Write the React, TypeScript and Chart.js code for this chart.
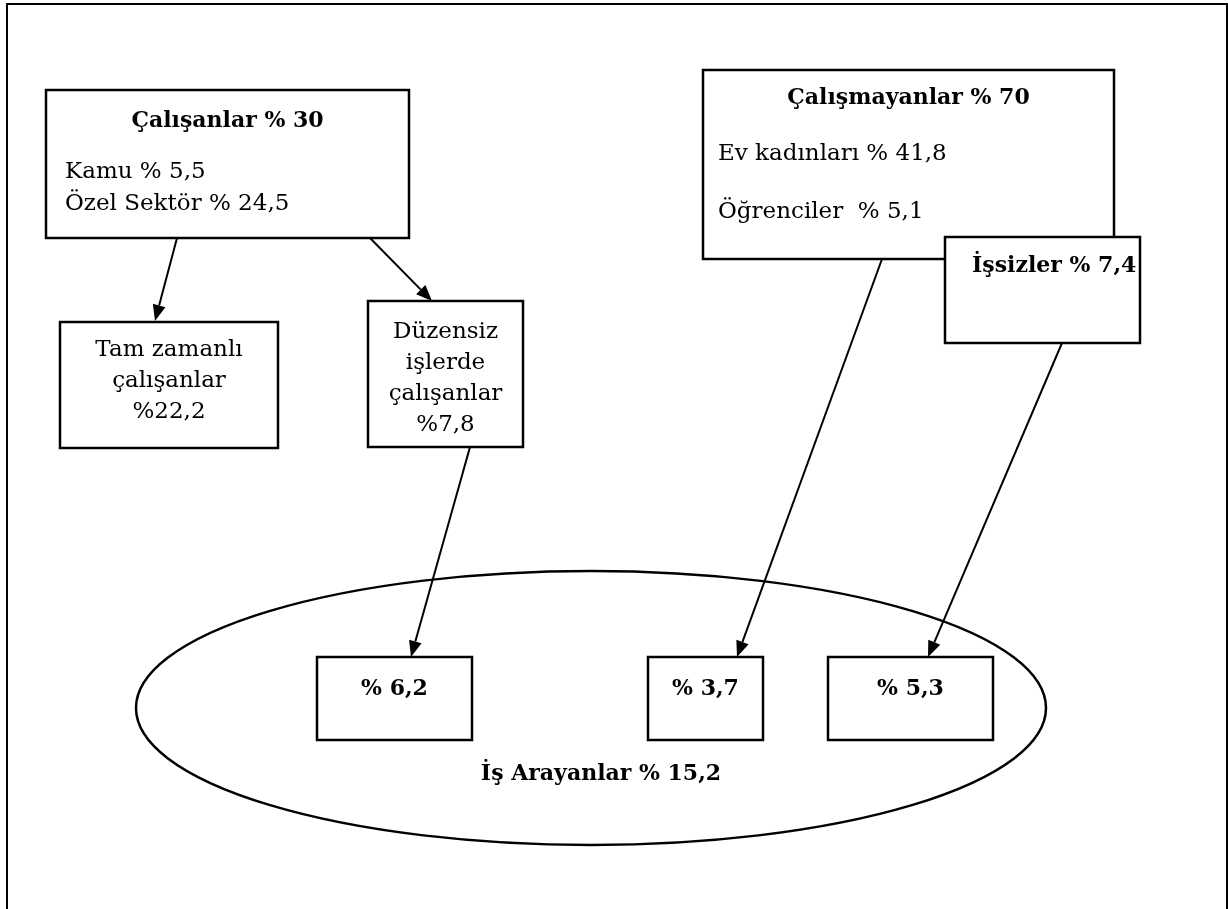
import React, { useEffect, useRef } from 'react';
import { Chart, registerables } from 'chart.js';

Chart.register(...registerables);

// ---- Data (shares in %) ----
const employedLabel = 'Çalışanlar';
const employedShare = 30;
const sectorLabels = ['Kamu', 'Özel Sektör'];
const sectorShares = [5.5, 24.5];
const jobTypeLabels = [['Tam zamanlı', 'çalışanlar'], ['Düzensiz', 'işlerde', 'çalışanlar']];
const jobTypeShares = [22.2, 7.8];
const nonEmployedLabel = 'Çalışmayanlar';
const nonEmployedShare = 70;
const nonEmployedGroupLabels = ['Ev kadınları', 'Öğrenciler '];
const nonEmployedGroupShares = [41.8, 5.1];
const unemployedLabel = 'İşsizler';
const unemployedShare = 7.4;
const jobSeekerLabel = 'İş Arayanlar';
const jobSeekerShare = 15.2;
const jobSeekerSourceShares = [6.2, 3.7, 5.3];

const fmt = (v: number) => String(v).replace('.', ',');

// ---- Layout (diagram units on a 1228 x 909 grid) ----
const FRAME = [7, 4, 1227, 940];
const EMPLOYED_BOX = [46, 90, 409, 238];
const JOBTYPE_BOXES = [
  [60, 322, 278, 448],
  [368, 301, 523, 447],
];
const NONEMPLOYED_BOX = [703, 70, 1114, 259];
const UNEMPLOYED_BOX = [945, 237, 1140, 343];
const SEEKER_BOXES = [
  [317, 657, 472, 740],
  [648, 657, 763, 740],
  [828, 657, 993, 740],
];
const ELLIPSE = [591, 708, 455, 137];
const ARROWS = [
  [177, 238, 155, 321],
  [370, 238, 432, 301],
  [470, 447, 411, 657],
  [882, 259, 737, 657],
  [1062, 343, 928, 657],
];

const FONT_FAMILY = '"DejaVu Serif", serif';
const FS = 23;
const FS_BOLD = 22;

const diagramPlugin = {
  id: 'diagram',
  afterDraw(chart: any) {
    const ctx: CanvasRenderingContext2D = chart.ctx;
    const xs = chart.scales.x;
    const ys = chart.scales.y;
    const X = (v: number) => xs.getPixelForValue(v);
    const Y = (v: number) => ys.getPixelForValue(v);

    ctx.save();
    ctx.strokeStyle = '#000';
    ctx.fillStyle = '#000';

    const rect = (b: number[], lw = 2.5, fill = false) => {
      const x0 = X(b[0]), y0 = Y(b[1]), x1 = X(b[2]), y1 = Y(b[3]);
      if (fill) {
        ctx.fillStyle = '#fff';
        ctx.fillRect(x0, y0, x1 - x0, y1 - y0);
        ctx.fillStyle = '#000';
      }
      ctx.lineWidth = lw;
      ctx.strokeRect(x0, y0, x1 - x0, y1 - y0);
    };
    const text = (s: string, x: number, y: number, align: CanvasTextAlign, bold = false) => {
      ctx.font = bold ? `bold ${FS_BOLD}px ${FONT_FAMILY}` : `${FS}px ${FONT_FAMILY}`;
      ctx.textAlign = align;
      ctx.textBaseline = 'alphabetic';
      ctx.fillStyle = '#000';
      ctx.fillText(s, X(x), Y(y));
    };
    const arrow = (a: number[]) => {
      const x0 = X(a[0]), y0 = Y(a[1]), x1 = X(a[2]), y1 = Y(a[3]);
      const ang = Math.atan2(y1 - y0, x1 - x0);
      const L = 16, W = 6.5;
      const bx = x1 - L * Math.cos(ang), by = y1 - L * Math.sin(ang);
      ctx.lineWidth = 2;
      ctx.beginPath();
      ctx.moveTo(x0, y0);
      ctx.lineTo(bx, by);
      ctx.stroke();
      ctx.beginPath();
      ctx.moveTo(x1, y1);
      ctx.lineTo(bx + W * Math.sin(ang), by - W * Math.cos(ang));
      ctx.lineTo(bx - W * Math.sin(ang), by + W * Math.cos(ang));
      ctx.closePath();
      ctx.fill();
    };

    // outer frame (open at the bottom)
    ctx.lineWidth = 2;
    ctx.beginPath();
    ctx.moveTo(X(FRAME[0]), Y(FRAME[3]));
    ctx.lineTo(X(FRAME[0]), Y(FRAME[1]));
    ctx.lineTo(X(FRAME[2]), Y(FRAME[1]));
    ctx.lineTo(X(FRAME[2]), Y(FRAME[3]));
    ctx.stroke();

    // ellipse
    ctx.lineWidth = 2.5;
    ctx.beginPath();
    const ex = X(ELLIPSE[0]), ey = Y(ELLIPSE[1]);
    const erx = X(ELLIPSE[0] + ELLIPSE[2]) - ex;
    const ery = Y(ELLIPSE[1] + ELLIPSE[3]) - ey;
    ctx.ellipse(ex, ey, Math.abs(erx), Math.abs(ery), 0, 0, Math.PI * 2);
    ctx.stroke();

    // employed box
    rect(EMPLOYED_BOX);
    const ecx = (EMPLOYED_BOX[0] + EMPLOYED_BOX[2]) / 2;
    text(`${employedLabel} % ${fmt(employedShare)}`, ecx, 127, 'center', true);
    sectorLabels.forEach((l, i) => text(`${l} % ${fmt(sectorShares[i])}`, 65, 178 + i * 32, 'left'));

    // job type boxes
    const jtBase = [356, 338];
    JOBTYPE_BOXES.forEach((b, i) => {
      rect(b);
      const cx = (b[0] + b[2]) / 2;
      const lines = [...jobTypeLabels[i], `%${fmt(jobTypeShares[i])}`];
      lines.forEach((l, j) => text(l, cx, jtBase[i] + j * 31, 'center'));
    });

    // non-employed box
    rect(NONEMPLOYED_BOX);
    const ncx = (NONEMPLOYED_BOX[0] + NONEMPLOYED_BOX[2]) / 2;
    text(`${nonEmployedLabel} % ${fmt(nonEmployedShare)}`, ncx, 104, 'center', true);
    nonEmployedGroupLabels.forEach((l, i) =>
      text(`${l} % ${fmt(nonEmployedGroupShares[i])}`, 718, 160 + i * 58, 'left')
    );

    // unemployed box (drawn over)
    rect(UNEMPLOYED_BOX, 2.5, true);
    text(`${unemployedLabel} % ${fmt(unemployedShare)}`, 972, 272, 'left', true);

    // job seeker boxes
    SEEKER_BOXES.forEach((b, i) => {
      rect(b);
      text(`% ${fmt(jobSeekerSourceShares[i])}`, (b[0] + b[2]) / 2, 695, 'center', true);
    });
    text(`${jobSeekerLabel} % ${fmt(jobSeekerShare)}`, 601, 780, 'center', true);

    ARROWS.forEach(arrow);
    ctx.restore();
  },
};

export default function App() {
  const ref = useRef<HTMLCanvasElement | null>(null);
  useEffect(() => {
    if (!ref.current) return;
    const chart = new Chart(ref.current, {
      type: 'scatter',
      data: { datasets: [{ data: [], pointRadius: 0 }] },
      options: {
        animation: false,
        responsive: true,
        maintainAspectRatio: false,
        layout: { padding: 0 },
        plugins: { legend: { display: false }, tooltip: { enabled: false } },
        scales: {
          x: { type: 'linear', min: 0, max: 1228, display: false },
          y: { type: 'linear', min: 0, max: 909, reverse: true, display: false },
        },
      },
      plugins: [diagramPlugin],
    });
    return () => chart.destroy();
  }, []);
  return (
    <div style={{ position: 'absolute', left: 0, top: 0, width: 1228, height: 909, background: '#fff' }}>
      <canvas ref={ref} />
    </div>
  );
}
